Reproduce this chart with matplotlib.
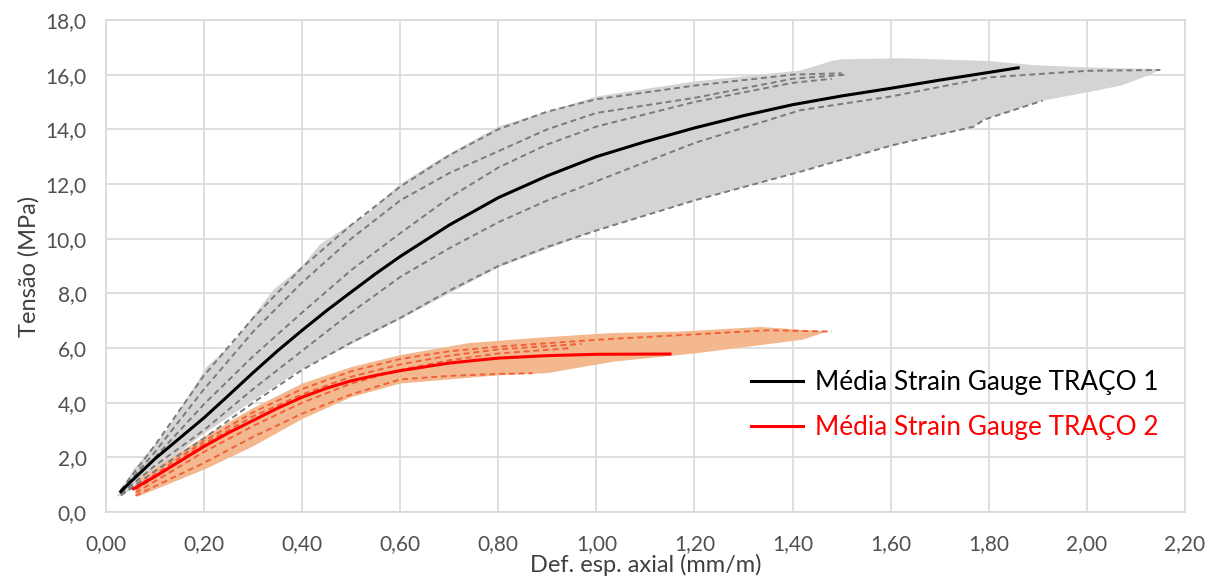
import numpy as np
import matplotlib.pyplot as plt

# readings taken off the original chart
# grey group (TRAÇO 1): envelope, individual specimens, mean
band1_up_x = [0.022, 0.056, 0.124, 0.17, 0.205, 0.26, 0.34, 0.40, 0.437, 0.532, 0.60, 0.68, 0.80,
              1.00, 1.20, 1.416, 1.48, 1.50, 1.62, 1.80, 1.89, 1.99, 2.15]
band1_up_y = [0.58, 1.55, 3.0, 4.3, 5.3, 6.2, 8.1, 9.0, 9.8, 10.9, 12.0, 12.9, 14.1,
              15.2, 15.75, 16.15, 16.5, 16.56, 16.6, 16.5, 16.35, 16.27, 16.2]
band1_lo_x = [0.022, 0.063, 0.19, 0.294, 0.396, 0.60, 0.80, 1.00, 1.20, 1.416, 1.60, 1.77, 1.79,
              1.91, 2.00, 2.07, 2.13, 2.15]
band1_lo_y = [0.55, 0.9, 2.75, 4.0, 5.2, 7.05, 8.95, 10.3, 11.4, 12.45, 13.4, 14.1, 14.35,
              15.05, 15.35, 15.6, 16.0, 16.2]

cp1_x = [
    [0.03, 0.1, 0.2, 0.3, 0.4, 0.5, 0.6, 0.7, 0.8, 0.9, 1.0, 1.2, 1.4, 1.5],
    [0.03, 0.1, 0.2, 0.3, 0.4, 0.5, 0.6, 0.7, 0.8, 0.9, 1.0, 1.2, 1.4, 1.51],
    [0.03, 0.1, 0.2, 0.3, 0.4, 0.5, 0.6, 0.7, 0.8, 0.9, 1.0, 1.2, 1.4, 1.48],
    [0.03, 0.1, 0.2, 0.3, 0.4, 0.5, 0.6, 0.7, 0.8, 0.9, 1.0, 1.2, 1.416, 1.6, 1.8, 2.0, 2.15],
    [0.03, 0.1, 0.2, 0.3, 0.4, 0.5, 0.6, 0.7, 0.8, 0.9, 1.0, 1.2, 1.416, 1.6, 1.77, 1.79, 1.91],
]
cp1_y = [
    [0.8, 2.45, 5.0, 7.1, 8.95, 10.5, 11.9, 13.05, 14.0, 14.65, 15.1, 15.6, 16.0, 16.05],
    [0.75, 2.2, 4.5, 6.6, 8.4, 10.0, 11.4, 12.4, 13.2, 14.0, 14.6, 15.15, 15.85, 16.0],
    [0.7, 2.0, 3.95, 5.7, 7.3, 8.85, 10.2, 11.5, 12.6, 13.45, 14.1, 15.0, 15.7, 15.85],
    [0.65, 1.7, 3.0, 4.5, 5.9, 7.3, 8.6, 9.65, 10.6, 11.4, 12.1, 13.5, 14.7, 15.2, 15.9, 16.14, 16.17],
    [0.6, 1.5, 2.7, 4.0, 5.2, 6.2, 7.1, 8.1, 9.0, 9.7, 10.3, 11.4, 12.45, 13.4, 14.1, 14.35, 15.05],
]

mean1_x = [0.03, 0.05, 0.1, 0.15, 0.2, 0.25, 0.3, 0.35, 0.4, 0.45, 0.5, 0.55, 0.6, 0.7, 0.8,
           0.9, 1.0, 1.1, 1.2, 1.3, 1.4, 1.5, 1.6, 1.7, 1.86]
mean1_y = [0.75, 1.1, 1.95, 2.7, 3.45, 4.27, 5.1, 5.9, 6.65, 7.37, 8.05, 8.72, 9.35, 10.5, 11.5,
           12.3, 13.0, 13.55, 14.05, 14.5, 14.9, 15.22, 15.5, 15.8, 16.25]

# orange group (TRAÇO 2)
band2_up_x = [0.063, 0.2, 0.3, 0.4, 0.5, 0.6, 0.74, 0.9, 1.035, 1.17, 1.335, 1.47]
band2_up_y = [1.17, 2.75, 3.8, 4.7, 5.3, 5.74, 6.18, 6.4, 6.55, 6.6, 6.77, 6.6]
band2_lo_x = [0.063, 0.2, 0.3, 0.4, 0.5, 0.6, 0.8, 0.9, 1.035, 1.2, 1.42, 1.47]
band2_lo_y = [0.55, 1.55, 2.4, 3.4, 4.2, 4.7, 5.0, 5.08, 5.5, 5.8, 6.3, 6.6]

cp2_x = [
    [0.06, 0.2, 0.3, 0.4, 0.5, 0.6, 0.7, 0.8, 1.0, 1.2, 1.35, 1.48],
    [0.06, 0.2, 0.3, 0.4, 0.5, 0.6, 0.7, 0.8, 0.97],
    [0.06, 0.2, 0.3, 0.4, 0.5, 0.6, 0.7, 0.8, 0.95],
    [0.06, 0.2, 0.3, 0.4, 0.5, 0.6, 0.7, 0.8, 0.87],
]
cp2_y = [
    [0.9, 2.6, 3.65, 4.5, 5.15, 5.6, 5.88, 6.05, 6.3, 6.5, 6.65, 6.6],
    [0.8, 2.5, 3.5, 4.3, 4.95, 5.4, 5.72, 5.95, 6.15],
    [0.7, 2.2, 3.15, 4.0, 4.7, 5.2, 5.55, 5.8, 6.0],
    [0.6, 1.8, 2.75, 3.6, 4.3, 4.85, 4.98, 5.05, 5.08],
]

mean2_x = [0.056, 0.1, 0.15, 0.2, 0.25, 0.3, 0.35, 0.4, 0.45, 0.5, 0.55, 0.6, 0.7, 0.8, 0.9,
           1.0, 1.15]
mean2_y = [0.85, 1.3, 1.85, 2.4, 2.9, 3.35, 3.8, 4.2, 4.53, 4.8, 5.0, 5.17, 5.45, 5.63, 5.72,
           5.77, 5.78]

x_ticks = [0.0, 0.2, 0.4, 0.6, 0.8, 1.0, 1.2, 1.4, 1.6, 1.8, 2.0, 2.2]
x_tick_labels = ["0,00", "0,20", "0,40", "0,60", "0,80", "1,00", "1,20", "1,40",
                 "1,60", "1,80", "2,00", "2,20"]
y_ticks = [0, 2, 4, 6, 8, 10, 12, 14, 16, 18]
y_tick_labels = ["0,0", "2,0", "4,0", "6,0", "8,0", "10,0", "12,0", "14,0", "16,0", "18,0"]

labels = ["Média Strain Gauge TRAÇO 1", "Média Strain Gauge TRAÇO 2"]

plt.rcParams["font.family"] = ["Lato", "DejaVu Sans"]

fig = plt.figure(figsize=(12.19, 5.79), dpi=100)
ax = fig.add_axes((0.087, 0.1157, 0.885, 0.8498))

grid_col = "#d9d9d9"

# grey band
ax.fill(np.concatenate([band1_up_x, band1_lo_x[::-1]]),
        np.concatenate([band1_up_y, band1_lo_y[::-1]]),
        color="#d4d4d4", lw=0, zorder=2)
for xs, ys in zip(cp1_x, cp1_y):
    ax.plot(xs, ys, color="#7a7a7a", lw=1.4, dashes=(3, 2), zorder=3)
l1, = ax.plot(mean1_x, mean1_y, color="black", lw=2.2, zorder=5)

# orange band
ax.fill(np.concatenate([band2_up_x, band2_lo_x[::-1]]),
        np.concatenate([band2_up_y, band2_lo_y[::-1]]),
        color="#f4b88f", lw=0, zorder=2)
for xs, ys in zip(cp2_x, cp2_y):
    ax.plot(xs, ys, color="#f2603a", lw=1.4, dashes=(3, 2), zorder=3)
l2, = ax.plot(mean2_x, mean2_y, color="#ff0000", lw=2.2, zorder=5)

ax.set_xlim(0, 2.2)
ax.set_ylim(0, 18)
ax.set_xticks(x_ticks)
ax.set_xticklabels(x_tick_labels)
ax.set_yticks(y_ticks)
ax.set_yticklabels(y_tick_labels)
ax.tick_params(length=0, labelsize=15, colors="#505050")
ax.tick_params(axis="x", pad=16)
ax.tick_params(axis="y", pad=14)
ax.grid(True, color=grid_col, lw=1.2, zorder=0)
ax.set_axisbelow(True)
for s in ax.spines.values():
    s.set_color(grid_col)
    s.set_linewidth(1.2)

ax.set_xlabel("Def. esp. axial (mm/m)", fontsize=17, color="#404040", labelpad=0)
ax.set_ylabel("Tensão (MPa)", fontsize=17, color="#404040", labelpad=4)

leg = ax.legend([l1, l2], labels, loc="center left", bbox_to_anchor=(0.598, 0.2175),
                frameon=False, fontsize=18.8, handlelength=2.0, handletextpad=0.45,
                labelspacing=0.75, borderpad=0, borderaxespad=0,
                labelcolor=["black", "#ff0000"])

fig.savefig("out.png", dpi=100)
